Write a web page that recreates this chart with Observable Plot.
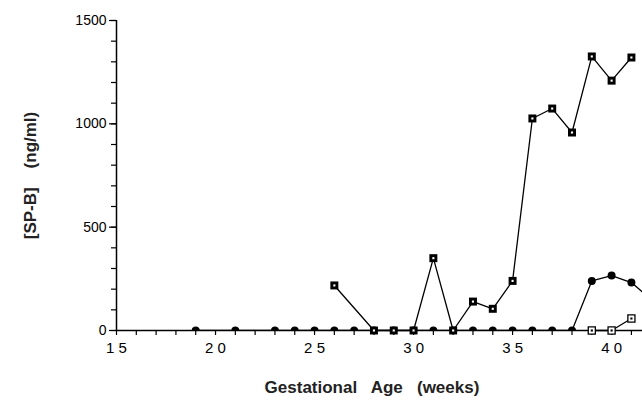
<!DOCTYPE html>
<html>
<head>
<meta charset="utf-8">
<script src="https://cdn.jsdelivr.net/npm/d3@7"></script>
<script src="https://cdn.jsdelivr.net/npm/@observablehq/plot@0.6"></script>
<style>
  body { margin: 0; background: #fff; }
  #grafico { width: 642px; height: 406px; }
</style>
</head>
<body>
<div id="grafico"></div>
<script>
// serie grande (cuadrados con punto)
const weeksA = [26, 28, 29, 30, 31, 32, 33, 34, 35, 36, 37, 38, 39, 40, 41];
const valuesA = [218, 0, 0, 0, 350, 0, 140, 105, 240, 1026, 1074, 958, 1326, 1209, 1321];
// serie circulos llenos
const weeksB = [19, 21, 23, 24, 25, 26, 27, 28, 29, 30, 31, 32, 33, 34, 35, 36, 37, 38, 39, 40, 41, 42];
const valuesB = [0, 0, 0, 0, 0, 0, 0, 0, 0, 0, 0, 0, 0, 0, 0, 0, 0, 0, 240, 266, 232, 150];
// serie cuadrados abiertos
const weeksC = [39, 40, 41];
const valuesC = [0, 0, 58];

const yMajor = [0, 500, 1000, 1500];
const xLabels = [15, 20, 25, 30, 35, 40];

const dataA = weeksA.map((w, i) => ({week: w, value: valuesA[i]}));
const dataB = weeksB.map((w, i) => ({week: w, value: valuesB[i]}));
const dataC = weeksC.map((w, i) => ({week: w, value: valuesC[i]}));

const font = "Liberation Sans, Arial, sans-serif";

let chart = Plot.plot({
  width: 642,
  height: 406,
  marginLeft: 116,
  marginRight: 0,
  marginTop: 20,
  marginBottom: 76,
  style: {fontFamily: font, background: "white", color: "black"},
  x: {domain: [15, 41.56], label: null},
  y: {domain: [0, 1500], label: null},
  marks: [
    Plot.axisY(d3.range(0, 1501, 100), {tickSize: 5, text: null, strokeWidth: 1.2}),
    Plot.axisY(yMajor, {tickSize: 7, tickPadding: 3, fontSize: 14, strokeWidth: 1.2, tickFormat: d => String(d)}),
    Plot.axisX(d3.range(15, 42), {tickSize: 5, text: null, strokeWidth: 1.2}),
    Plot.axisX(xLabels, {tickSize: 0, tickPadding: 12, fontSize: 15, letterSpacing: "3px", tickFormat: d => String(d).split("").join(" ")}),
    Plot.ruleX([15], {strokeWidth: 1.5}),
    Plot.ruleY([0], {strokeWidth: 1.5}),
    Plot.line(dataA, {x: "week", y: "value", stroke: "black", strokeWidth: 1.3}),
    Plot.line(dataB, {x: "week", y: "value", stroke: "black", strokeWidth: 1.3, clip: true}),
    Plot.line(dataC, {x: "week", y: "value", stroke: "black", strokeWidth: 1.3}),
    Plot.dot(dataB, {x: "week", y: "value", r: 4, fill: "black", clip: true}),
    Plot.dot(dataA, {x: "week", y: "value", symbol: "square", r: 4.5, fill: "black"}),
    Plot.dot(dataA, {x: "week", y: "value", symbol: "square", r: 1.2, fill: "white"}),
    Plot.dot(dataC, {x: "week", y: "value", symbol: "square", r: 4, fill: "white", stroke: "black", strokeWidth: 1.3}),
    Plot.dot(dataC, {x: "week", y: "value", symbol: "square", r: 1.2, fill: "black"}),
    Plot.text(["Gestational   Age   (weeks)"], {frameAnchor: "bottom", dy: 62, fontSize: 17, fontWeight: "bold", letterSpacing: "2.5px", fill: "#222", fontFamily: font, textAnchor: "middle", x: 27.9, y: 0}),
    Plot.text(["[SP-B]    (ng/ml)"], {x: 15, y: 750, dx: -86, rotate: -90, fontSize: 17, fontWeight: "bold", letterSpacing: "3.5px", fill: "#222", fontFamily: font})
  ]
});

d3.select('#grafico svg').remove();
d3.select('#grafico').append(() => chart);
</script>
</body>
</html>
